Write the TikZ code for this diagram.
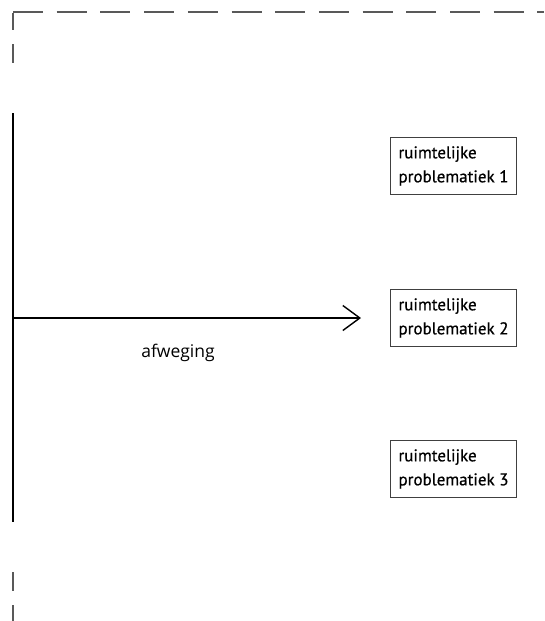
\documentclass[tikz,border=0pt]{standalone}
\usepackage{fontspec}
\setmainfont{PT Sans}
\newfontfamily\boxfont{PT Sans}[FakeBold=0.6]
\newfontfamily\labelfont{Open Sans}
\usetikzlibrary{arrows.meta}
\begin{document}
\begin{tikzpicture}[x=1pt,y=-1pt,
  frameline/.style={draw=black!65,line width=1.5pt},
  mainline/.style={draw=black,line width=1.4pt},
  probbox/.style={draw=black!75,line width=1pt,anchor=north west,
    inner sep=0pt,minimum width=126pt,minimum height=57pt,
    align=left,font=\boxfont\fontsize{17}{24}\selectfont},
  weighlabel/.style={font=\labelfont\fontsize{17.5}{20}\selectfont}]
\useasboundingbox (0,0) rectangle (544,621);

% dashed frame: top edge and the visible pieces of the left edge
\coordinate (c0) at (13,12);
\coordinate (c1) at (544,12);
\draw[frameline,dash pattern=on 30pt off 13.7pt] (c0) -- (c1);
\draw[frameline] (13,12.75) -- (13,30);
\draw[frameline] (13,44) -- (13,63);
\draw[frameline] (13,572) -- (13,591);
\draw[frameline] (13,605) -- (13,621);

% main vertical axis
\coordinate (axtop) at (13,113);
\coordinate (axbot) at (13,522);
\draw[mainline] (axtop) -- (axbot);

% problem boxes
\node[probbox] (p1) at (390,137) {ruimtelijke\\problematiek 1};
\node[probbox] (p2) at (390,289) {ruimtelijke\\problematiek 2};
\node[probbox] (p3) at (390,440) {ruimtelijke\\problematiek 3};

% weighing arrow
\coordinate (arrstart) at (13,318);
\coordinate (arrend) at (361,318);
\draw[mainline,-{Straight Barb[length=17pt,width=25pt,line width=1.4pt]}] (arrstart) -- (arrend);
\node[weighlabel] (afw) at (178,353) {afweging};
\end{tikzpicture}
\end{document}
